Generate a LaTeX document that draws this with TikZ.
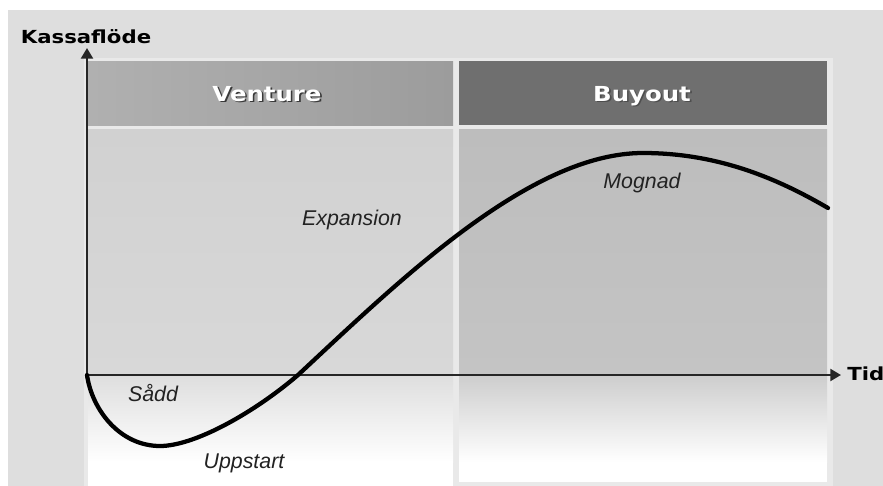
\documentclass[tikz,border=0pt]{standalone}
\usepackage{fontspec}
\usetikzlibrary{arrows.meta}
\newfontfamily\hdfont[FakeStretch=1.18]{DejaVu Sans}
\newfontfamily\lblfont{Liberation Sans}
\definecolor{bgray}{HTML}{DEDEDE}
\definecolor{framegray}{HTML}{E9E9E9}
\definecolor{ventheadL}{HTML}{B0B0B0}
\definecolor{ventheadR}{HTML}{9C9C9C}
\definecolor{buyhead}{HTML}{6F6F6F}
\definecolor{venttop}{HTML}{D1D1D1}
\definecolor{ventmid}{HTML}{D8D8D8}
\definecolor{ventlow}{HTML}{DEDEDE}
\definecolor{buytop}{HTML}{BDBDBD}
\definecolor{buymid}{HTML}{C4C4C4}
\definecolor{buylow}{HTML}{CDCDCD}
\definecolor{axisgray}{HTML}{262626}
\definecolor{phasetext}{HTML}{222222}
\definecolor{shadowgray}{HTML}{3A3A3A}
\newcommand{\shadowtext}[2]{\rlap{\kern1.2pt\raisebox{-1.2pt}{\textcolor{#1}{#2}}}\textcolor{white}{#2}}
\begin{document}
\begin{tikzpicture}[x=0.75pt,y=-0.75pt,
  axisline/.style={line width=1.6pt, draw=axisgray, -{Triangle[length=8pt,width=9pt]}},
  flowcurve/.style={line width=3.2pt, line cap=round, draw=black},
  phase/.style={font=\lblfont\itshape\fontsize{16}{18}\selectfont, text=phasetext, inner sep=0pt},
  header/.style={font=\hdfont\bfseries\fontsize{15.5}{18}\selectfont, inner sep=0pt, anchor=base},
  axlabel/.style={font=\hdfont\bfseries\fontsize{13.5}{16}\selectfont, text=black, inner sep=0pt}]

\useasboundingbox (0,0) rectangle (883,486);
% page and backdrop
\fill[white] (0,0) rectangle (883,486);
\fill[bgray] (8,10) rectangle (883,486);
\fill[framegray] (84,58) rectangle (833,486);

% Venture column
\shade[left color=ventheadL, right color=ventheadR] (88,61) rectangle (453,125);
\shade[top color=venttop, bottom color=ventmid] (88,129) rectangle (453,375);
\shade[top color=ventlow, bottom color=white] (88,375) rectangle (453,462);
\fill[white] (88,462) rectangle (453,486);

% Buyout column
\fill[buyhead] (459,61) rectangle (827,125);
\shade[top color=buytop, bottom color=buymid] (459,129) rectangle (827,375);
\shade[top color=buylow, bottom color=white] (459,375) rectangle (827,462);
\fill[white] (459,462) rectangle (827,482);

% column headers
\node[header] (venture) at (267,101) {\shadowtext{shadowgray}{Venture}};
\node[header] (buyout) at (642,101) {\shadowtext{buyhead!70!black}{Buyout}};

% axes
\coordinate (O) at (87,375);
\coordinate (ytip) at (87,48);
\coordinate (xtip) at (841,375);
\draw[axisline] (O) -- (ytip);
\draw[axisline] (O) -- (xtip);
\node[axlabel, anchor=base] (ylabel) at (86,43) {Kassaflöde};
\node[axlabel, anchor=west] (xlabel) at (847,374) {Tid};

% cash-flow curve through its key points
\coordinate (low) at (160,446);
\coordinate (cross) at (298,375);
\coordinate (peak) at (643,153);
\coordinate (tail) at (828,208);
\draw[flowcurve] (O) .. controls (92,410) and (120,446) .. (low)
  .. controls (195,446) and (255,412) .. (cross)
  .. controls (400,280) and (530,153) .. (peak)
  .. controls (720,153) and (780,180) .. (tail);

% phase labels
\node[phase] (sadd) at (153,393) {Sådd};
\node[phase] (uppstart) at (244,463) {Uppstart};
\node[phase] (expansion) at (352,220) {Expansion};
\node[phase] (mognad) at (642,183) {Mognad};
\end{tikzpicture}
\end{document}
